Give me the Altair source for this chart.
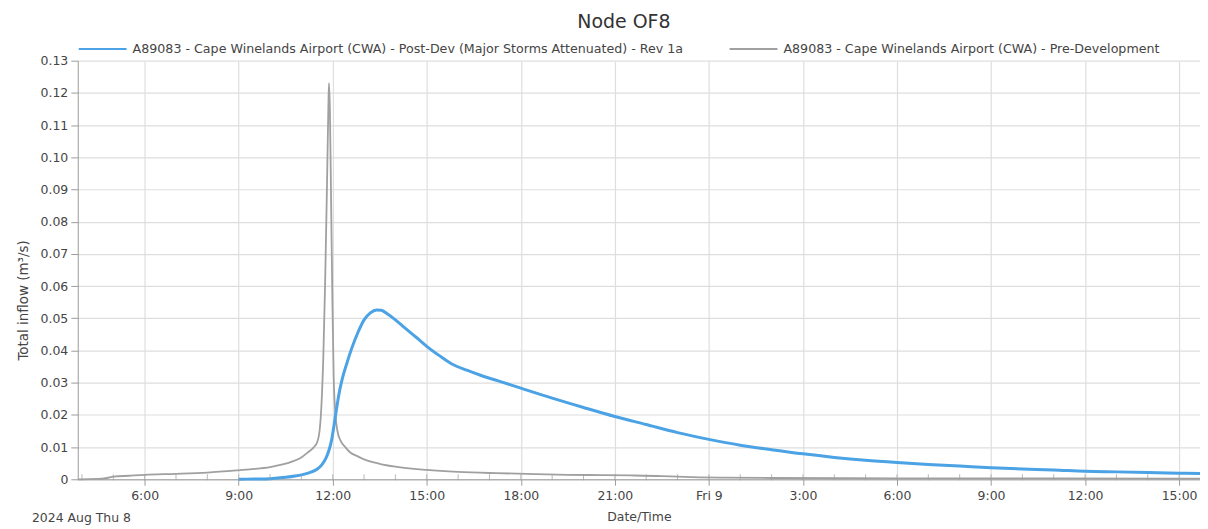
import altair as alt
import pandas as pd

# ---------------- data ----------------
BASE = pd.Timestamp("2024-08-08 00:00:00")   # Thu 8 Aug 2024, 00:00
POST_NAME = "A89083 - Cape Winelands Airport (CWA) - Post-Dev (Major Storms Attenuated) - Rev 1a"
PRE_NAME = "A89083 - Cape Winelands Airport (CWA) - Pre-Development"
DATE_LABEL = "2024 Aug Thu 8"

# hours after Thu 00:00
pre_hours = [3.87, 4.5, 4.8, 5.0, 5.5, 6.0, 7.0, 8.0, 9.0, 9.5, 10.0, 10.4, 10.7, 11.0,
             11.2, 11.4, 11.5, 11.58, 11.64, 11.7, 11.76, 11.82, 11.86, 11.88, 11.91,
             11.95, 11.99, 12.03, 12.08, 12.15, 12.25, 12.4, 12.55, 12.8, 13.0, 13.5,
             14.0, 15.0, 16.0, 17.2, 18.5, 19.5, 20.5, 21.5, 22.5, 23.0, 23.7, 24.5,
             26.0, 30.0, 35.0, 39.67]
pre_vals = [0.0, 0.0001, 0.0004, 0.0008, 0.0011, 0.0014, 0.0017, 0.0021, 0.0028, 0.0032,
            0.0038, 0.0046, 0.0055, 0.0068, 0.0083, 0.0100, 0.0114, 0.0150, 0.0230,
            0.0380, 0.0620, 0.0930, 0.1150, 0.1230, 0.1150, 0.0850, 0.0550, 0.0320,
            0.0210, 0.0150, 0.0120, 0.0100, 0.0084, 0.0071, 0.0062, 0.0048, 0.0039,
            0.0029, 0.0023, 0.0019, 0.0016, 0.0014, 0.0013, 0.0012, 0.0010, 0.0008,
            0.0006, 0.0005, 0.0004, 0.0003, 0.0003, 0.0002]

post_hours = [9.0, 9.5, 10.0, 10.5, 10.8, 11.1, 11.3, 11.5, 11.65, 11.78, 11.88, 11.96,
              12.03, 12.1, 12.2, 12.3, 12.45, 12.6, 12.8, 13.0, 13.2, 13.4, 13.55, 13.75,
              14.0, 14.3, 14.7, 15.0, 15.4, 15.8, 16.3, 16.8, 17.3, 18.0, 19.0, 20.0,
              21.0, 22.0, 23.0, 24.0, 25.0, 26.0, 27.0, 28.0, 29.0, 30.0, 31.0, 32.0,
              33.0, 34.0, 35.0, 36.0, 37.0, 38.0, 39.0, 39.67]
post_vals = [0.0, 0.0001, 0.0002, 0.0006, 0.0010, 0.0016, 0.0022, 0.0031, 0.0045, 0.0065,
             0.0090, 0.0120, 0.0160, 0.0205, 0.0265, 0.0310, 0.0360, 0.0405, 0.0455,
             0.0495, 0.0517, 0.0526, 0.0525, 0.0513, 0.0495, 0.0470, 0.0438, 0.0413,
             0.0384, 0.0358, 0.0338, 0.0320, 0.0305, 0.0283, 0.0252, 0.0223, 0.0195,
             0.0170, 0.0145, 0.0124, 0.0106, 0.0092, 0.0079, 0.0068, 0.0059, 0.0052,
             0.0046, 0.0041, 0.0036, 0.0032, 0.0029, 0.0025, 0.0023, 0.0021, 0.0019,
             0.0018]

major_tick_hours = [6, 9, 12, 15, 18, 21, 24, 27, 30, 33, 36, 39]
minor_tick_hours = list(range(4, 40))
y_ticks = [0.0, 0.01, 0.02, 0.03, 0.04, 0.05, 0.06, 0.07, 0.08, 0.09, 0.10, 0.11, 0.12, 0.13]
x_start_hour = 3.8667
x_end_hour = 39.6667

BLUE = "#4ba2e4"
GRAY = "#a0a0a0"
FONT = "DejaVu Sans"
TEXT = "#454545"
AXIS_GRAY = "#9c9c9c"


def iso(h):
    return (BASE + pd.Timedelta(hours=h)).strftime("%Y-%m-%dT%H:%M:%S")


def dt(h):
    t = BASE + pd.Timedelta(hours=h)
    return alt.DateTime(year=t.year, month=t.month, date=t.day, hours=t.hour, minutes=t.minute)


pre_df = pd.DataFrame({"time": [iso(h) for h in pre_hours], "flow": pre_vals, "series": PRE_NAME})
post_df = pd.DataFrame({"time": [iso(h) for h in post_hours], "flow": post_vals, "series": POST_NAME})
minor_df = pd.DataFrame({"time": [iso(h) for h in minor_tick_hours]})
date_df = pd.DataFrame({"label": [DATE_LABEL]})

x_enc = alt.X(
    "time:T",
    title="Date/Time",
    scale=alt.Scale(domain=[dt(x_start_hour), dt(x_end_hour)]),
    axis=alt.Axis(
        values=[dt(h) for h in major_tick_hours],
        labelExpr="hours(datum.value) == 0 ? 'Fri ' + date(datum.value) : hours(datum.value) + ':00'",
        tickSize=6, labelPadding=4, titlePadding=9,
        labelOverlap=False, labelFlush=False,
    ),
)
y_enc = alt.Y(
    "flow:Q",
    title="Total inflow (m³/s)",
    scale=alt.Scale(domain=[0, 0.13], nice=False),
    axis=alt.Axis(
        values=y_ticks,
        labelExpr="datum.value == 0 ? '0' : format(datum.value, '.2f')",
        tickSize=7, labelPadding=3, titlePadding=10, titleFontSize=13.5, titleY=240,
    ),
)
color_enc = alt.Color(
    "series:N",
    scale=alt.Scale(domain=[POST_NAME, PRE_NAME], range=[BLUE, GRAY]),
    legend=alt.Legend(
        title=None, orient="none", legendX=0, legendY=-37, direction="horizontal",
        columns=2, symbolType="stroke", symbolSize=2304, symbolStrokeWidth=2,
        labelFont=FONT, labelFontSize=12.7, labelColor=TEXT, labelLimit=1000,
        labelOffset=5, columnPadding=42,
    ),
)

pre_line = alt.Chart(pre_df).mark_line(strokeWidth=1.8, interpolate="monotone").encode(
    x=x_enc, y=y_enc, color=color_enc)
post_line = alt.Chart(post_df).mark_line(strokeWidth=3, interpolate="monotone").encode(
    x=x_enc, y=y_enc, color=color_enc)
minor_ticks = alt.Chart(minor_df).mark_tick(color=AXIS_GRAY, thickness=1, size=6).encode(
    x=x_enc, y=alt.value(418))
date_text = alt.Chart(date_df).mark_text(
    align="left", baseline="middle", font=FONT, fontSize=12.5, color=TEXT).encode(
    x=alt.value(-46), y=alt.value(459), text="label:N")

chart = (
    alt.layer(pre_line, post_line, minor_ticks, date_text)
    .properties(
        width=1126, height=420,
        title=alt.Title("Node OF8", font=FONT, fontSize=19, fontWeight="normal", color="#333333",
                        anchor="middle", frame="group", dx=-15, offset=-8),
        autosize=alt.AutoSizeParams(type="none"),
        padding={"left": 70, "top": 52, "right": 0, "bottom": 45},
    )
    .configure_view(stroke=None)
    .configure_axis(
        labelFont=FONT, labelFontSize=12.5, labelColor=TEXT,
        titleFont=FONT, titleFontSize=12.5, titleFontWeight="normal", titleColor=TEXT,
        gridColor="#dedede", gridWidth=1.2, domainColor=AXIS_GRAY, tickColor=AXIS_GRAY,
    )
)

chart.save("out.html", embed_options={"renderer": "svg", "actions": False})
